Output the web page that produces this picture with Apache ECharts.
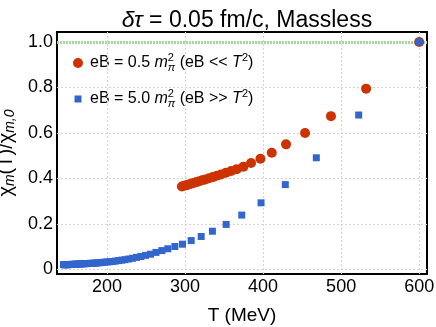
<!DOCTYPE html>
<html><head><meta charset="utf-8">
<script src="https://cdn.jsdelivr.net/npm/echarts@6/dist/echarts.min.js"></script>
<style>html,body{margin:0;padding:0;background:#fff}#c{width:436px;height:327px}</style>
</head><body><div id="c"></div>
<script>
// Temperatures (MeV) and chi_m(T)/chi_m,0 for eB = 0.5 m_pi^2
const redT = [600, 532, 487, 453.8, 429.4, 411.1, 396.6, 384.6, 374.8, 366.3, 359.1, 352.4, 346.3, 340.7, 335.6, 330.8, 326.3, 322.1, 318.2, 314.5, 311.0, 307.7, 304.6, 301.6, 298.7, 296.0];
const redV = [1.0, 0.795, 0.674, 0.600, 0.550, 0.513, 0.487, 0.468, 0.452, 0.441, 0.433, 0.425, 0.418, 0.412, 0.406, 0.401, 0.396, 0.392, 0.388, 0.384, 0.380, 0.377, 0.374, 0.370, 0.368, 0.365];
// eB = 5.0 m_pi^2
const blueT = [600, 522.5, 468.2, 428.5, 397.4, 372.7, 352.7, 335.1, 320.7, 307.9, 296.8, 287.0, 278.0, 270.4, 262.8, 255.8, 249.4, 243.4, 237.8, 232.6, 227.8, 223.2, 218.9, 214.8, 210.9, 207.3, 203.8, 200.5, 197.3, 194.3, 191.5, 188.7, 186.1, 183.6, 181.1, 178.8, 176.6, 174.4, 172.3, 170.3, 168.4, 166.5, 164.7, 162.9, 161.2, 159.6, 158.0, 156.4, 154.9, 153.4, 152.0, 150.6, 149.3, 148.0, 146.7, 145.4, 144.2];
const blueV = [1.0, 0.679, 0.491, 0.373, 0.293, 0.239, 0.198, 0.168, 0.145, 0.127, 0.111, 0.101, 0.091, 0.083, 0.075, 0.067, 0.062, 0.057, 0.053, 0.049, 0.046, 0.043, 0.041, 0.039, 0.037, 0.035, 0.034, 0.033, 0.032, 0.031, 0.030, 0.029, 0.028, 0.028, 0.027, 0.027, 0.026, 0.026, 0.025, 0.025, 0.025, 0.024, 0.024, 0.024, 0.023, 0.023, 0.023, 0.022, 0.022, 0.022, 0.022, 0.021, 0.021, 0.021, 0.021, 0.021, 0.021];
const xTicks = [200, 300, 400, 500, 600];
const yTicks = [0, 0.2, 0.4, 0.6, 0.8, 1.0];
const refLine = 1.0;

const FONT = 'Liberation Sans';
const chart = echarts.init(document.getElementById('c'), null, {renderer: 'canvas'});
const zip = (a, b) => a.map((v, i) => [v, b[i]]);
const gridStyle = {color: '#d4d4d4', type: [2, 2], width: 1};

const legendRich = {
  n: {fontFamily: FONT, fontSize: 16, color: '#000', lineHeight: 20},
  m: {fontFamily: FONT, fontSize: 16, fontStyle: 'italic', color: '#000', lineHeight: 20},
  sup: {fontFamily: FONT, fontSize: 11, color: '#000', padding: [0, 0, 11, 0], width: 0},
  sub: {fontFamily: FONT, fontSize: 11, fontStyle: 'italic', color: '#000', padding: [9, 0, 0, 0]},
  sup2: {fontFamily: FONT, fontSize: 11, color: '#000', padding: [0, 0, 11, 0]}
};

chart.setOption({
  animation: false,
  backgroundColor: '#fff',
  title: {
    text: '{i|δτ}{n| = 0.05 fm/c, Massless}',
    left: 242, textAlign: 'center', top: 4,
    textStyle: {fontWeight: 'normal', rich: {
      i: {fontFamily: FONT, fontSize: 23, fontStyle: 'italic', fontWeight: 'normal', color: '#000'},
      n: {fontFamily: FONT, fontSize: 23, fontWeight: 'normal', color: '#000'}
    }}
  },
  grid: {left: 57, right: 9, top: 32, bottom: 53, outerBoundsMode: 'none', containLabel: false,
    show: true, borderColor: '#000', borderWidth: 2, backgroundColor: 'transparent'},
  legend: {
    orient: 'vertical', left: 68, top: 47, itemGap: 15, itemWidth: 10, itemHeight: 10,
    data: [
      {name: 'red', icon: 'circle'},
      {name: 'blue', icon: 'path://M0 0M10 10M1.5 1.5h7v7h-7z'}
    ],
    formatter: function (n) {
      return n === 'red'
        ? '{n|eB = 0.5 }{m|m}{sup|2}{sub|π}{n| (eB << }{m|T}{sup2|2}{n|)}'
        : '{n|eB = 5.0 }{m|m}{sup|2}{sub|π}{n| (eB >> }{m|T}{sup2|2}{n|)}';
    },
    textStyle: {rich: legendRich, padding: [0, 0, 0, 2]}
  },
  xAxis: {
    type: 'value', min: 136, max: 610,
    axisLine: {show: false}, axisTick: {show: false}, splitLine: {show: false},
    axisLabel: {customValues: xTicks, fontFamily: FONT, fontSize: 18, color: '#000', margin: 4},
    name: 'T (MeV)', nameLocation: 'middle', nameGap: 32,
    nameTextStyle: {fontFamily: FONT, fontSize: 19, color: '#000'}
  },
  yAxis: {
    type: 'value', min: -0.02, max: 1.044,
    axisLine: {show: false}, axisTick: {show: false}, splitLine: {show: false},
    axisLabel: {customValues: yTicks, fontFamily: FONT, fontSize: 18, color: '#000', margin: 4,
      formatter: v => v === 0 ? '0' : v.toFixed(1)},
    name: '{t|χ}{s|m}{t|(T)/χ}{s|m,0}', nameLocation: 'middle', nameGap: 29, nameRotate: 90,
    nameTextStyle: {rich: {
      t: {fontFamily: FONT, fontSize: 20, color: '#000', lineHeight: 24},
      s: {fontFamily: FONT, fontSize: 14, fontStyle: 'italic', color: '#000', padding: [8, 0, 0, 0]}
    }}
  },
  series: [
    {
      name: 'grid', type: 'line', data: [], silent: true, z: 1,
      markLine: {
        silent: true, symbol: 'none', label: {show: false}, animation: false,
        lineStyle: gridStyle,
        data: xTicks.map(v => ({xAxis: v})).concat(yTicks.filter(v => v !== refLine).map(v => ({yAxis: v})))
          .concat([{yAxis: refLine, lineStyle: {color: '#a6d89e', type: [2, 1], width: 3}}])
      }
    },
    {name: 'red', type: 'scatter', data: zip(redT, redV), symbol: 'circle', symbolSize: 10, z: 5,
      itemStyle: {color: '#cc3300', opacity: 1}},
    {name: 'blue', type: 'scatter', data: zip(blueT, blueV), symbol: 'rect', symbolSize: 7, z: 6,
      itemStyle: {color: '#3366cc', opacity: 1}}
  ]
});
</script></body></html>
